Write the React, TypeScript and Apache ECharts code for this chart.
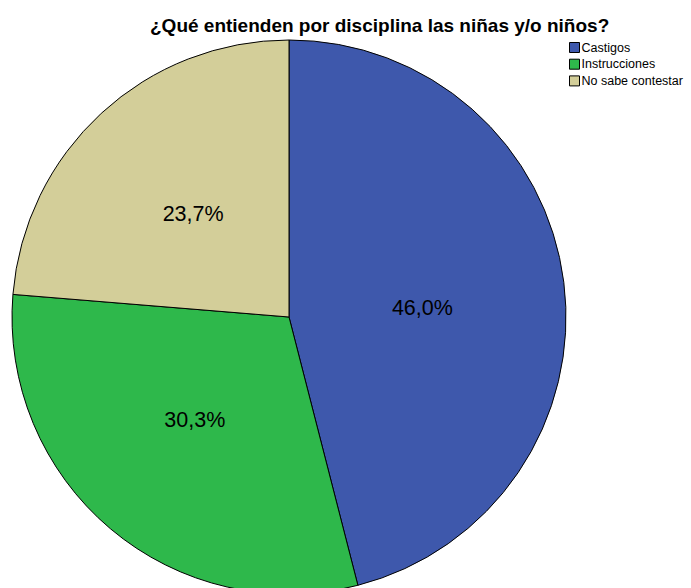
import React, { useEffect, useRef } from "react";
import * as echarts from "echarts";

const categories = ["Castigos", "Instrucciones", "No sabe contestar"];
const values = [46.0, 30.3, 23.7];
const colors = ["#3E58AC", "#2EB84B", "#D3CE99"];
const labelOffsets = [[-7, 9], [-3, -5], [0, 1]];
const titleText = "¿Qué entienden por disciplina las niñas y/o niños?";

export default function App() {
  const ref = useRef<HTMLDivElement>(null);
  useEffect(() => {
    document.body.style.margin = "0";
    const chart = echarts.init(ref.current!, null, { renderer: "svg" });
    chart.setOption({
      animation: false,
      backgroundColor: "#ffffff",
      title: {
        text: titleText,
        left: 145,
        top: 11,
        textStyle: { fontFamily: "Liberation Sans", fontWeight: "bold", fontSize: 19, color: "#000" },
      },
      legend: {
        orient: "vertical",
        left: 564,
        top: 36,
        itemWidth: 10,
        itemHeight: 10,
        itemGap: 3.7,
        icon: "rect",
        selectedMode: false,
        textStyle: { fontFamily: "Liberation Sans", fontSize: 12.5, lineHeight: 11, color: "#000", padding: [0, 0, 0, -3] },
        itemStyle: { borderColor: "#000", borderWidth: 1 },
        data: categories,
      },
      series: [
        {
          type: "pie",
          center: [289, 317],
          radius: [0, 277],
          startAngle: 90,
          clockwise: true,
          color: colors,
          itemStyle: { borderColor: "#000", borderWidth: 1 },
          label: {
            show: true,
            position: "inside",
            fontFamily: "Liberation Sans",
            fontSize: 21.5,
            color: "#000",
            formatter: (p: any) => p.value.toFixed(1).replace(".", ",") + "%",
          },
          labelLine: { show: false },
          emphasis: { disabled: true },
          data: categories.map((c, i) => ({
            name: c,
            value: values[i],
            label: { offset: labelOffsets[i] },
          })),
        },
      ],
    });
    return () => chart.dispose();
  }, []);
  return <div ref={ref} style={{ width: 691, height: 588 }} />;
}
